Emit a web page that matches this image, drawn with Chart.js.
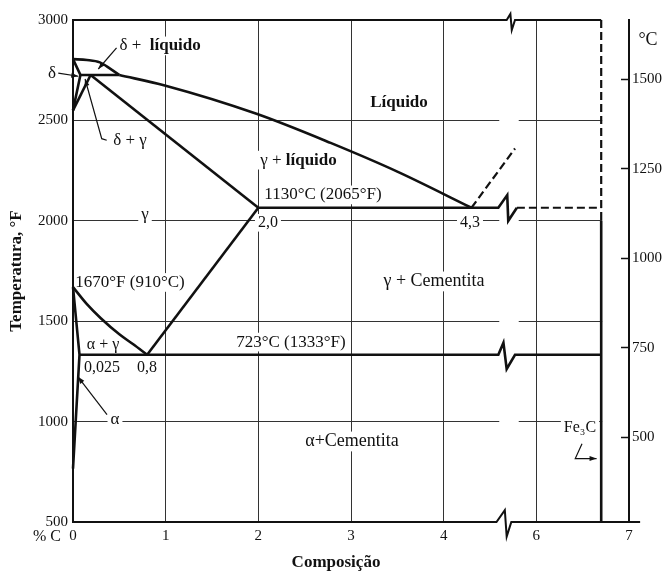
<!DOCTYPE html>
<html>
<head>
<meta charset="utf-8">
<title>Diagrama Fe-C</title>
<script src="https://cdn.jsdelivr.net/npm/chart.js@4.4.1/dist/chart.umd.min.js"></script>
<style>
  html, body { margin: 0; padding: 0; background: #fff; }
  #wrap { width: 667px; height: 571px; position: relative; }
</style>
</head>
<body>
<div id="wrap"><canvas id="diagram"></canvas></div>
<script>
"use strict";

// broken x axis: the 5 %C step is left out, 6 sits where 5 would be
var xTicks = [0, 1, 2, 3, 4, 6, 7];
var yTicksF = [500, 1000, 1500, 2000, 2500, 3000];
var yTicksC = [500, 750, 1000, 1250, 1500];
var cRange = [263, 1665]; // °C at bottom / top of the plot (right scale)

// phase boundaries as [%C, °F]
var liquidusDelta = [[0, 2805], [0.15, 2801], [0.29, 2789], [0.4, 2758], [0.5, 2726]];
var liquidusGamma = [[0.5, 2726], [0.99, 2674], [1.98, 2533], [2.78, 2388], [3.5, 2245], [4.3, 2065]];
var deltaSolidus = [[0, 2805], [0.08, 2726], [0, 2550]];
var gammaDelta = [[0.19, 2726], [0, 2550]];
var peritectic = [[0.08, 2726], [0.5, 2726]];
var gammaSolidus = [[0.19, 2726], [2.0, 2065]];
var eutectic = [[2.0, 2065], [4.59, 2065], [4.686, 2128], [4.697, 2000], [4.79, 2065]];
var eutecticDashed = [[4.79, 2065], [6.7, 2065]];
var liquidusFe3C = [[4.3, 2065], [4.77, 2360]];
var fe3cDashed = [[6.7, 3000], [6.7, 2000]];
var fe3cSolid = [[6.7, 2000], [6.7, 500]];
var a3 = [[0, 1670], [0.15, 1585], [0.3, 1515], [0.5, 1435], [0.65, 1385], [0.8, 1333]];
var acm = [[0.8, 1333], [2.0, 2065]];
var alphaLine = [[0, 1670], [0.07, 1333], [0, 766]];
var eutectoid = [[0.07, 1333], [4.59, 1333], [4.645, 1393], [4.68, 1262], [4.77, 1333], [6.7, 1333]];
var topEdge = [[0, 3000], [4.68, 3000], [4.72, 3030], [4.735, 2950], [4.77, 3000], [6.7, 3000]];
var bottomEdge = [[0, 500], [4.57, 500], [4.66, 559], [4.68, 427], [4.73, 500], [7.12, 500]];

// text in the diagram, [%C, °F]
var labels = [
    { t: 'δ +  líquido', x: 0.94, y: 2871 },
    { t: 'δ', x: -0.227, y: 2733 },
    { t: 'δ + γ', x: 0.615, y: 2401 },
    { t: 'Líquido', x: 3.518, y: 2589 },
    { t: 'γ + líquido', x: 2.433, y: 2302 },
    { t: '1130°C (2065°F)', x: 2.698, y: 2129 },
    { t: 'γ', x: 0.777, y: 2030 },
    { t: '2,0', x: 2.104, y: 1990, size: 16 },
    { t: '4,3', x: 4.284, y: 1990, size: 16 },
    { t: '1670°F (910°C)', x: 0.615, y: 1693 },
    { t: 'γ + Cementita', x: 3.896, y: 1698, size: 18 },
    { t: 'α + γ', x: 0.324, y: 1381, size: 16 },
    { t: '0,025', x: 0.313, y: 1267, size: 16 },
    { t: '0,8', x: 0.799, y: 1267, size: 16 },
    { t: '723°C (1333°F)', x: 2.352, y: 1396 },
    { t: 'α', x: 0.453, y: 1010 },
    { t: 'α+Cementita', x: 3.011, y: 901, size: 18 },
    { t: 'Fe₃C', x: 6.471, y: 970, size: 16 },
    { t: '°C', x: 7.205, y: 2901, size: 18 },
    { t: '% C', x: -0.281, y: 426, size: 16 },
    { t: 'Composição', x: 2.838, y: 297, bold: true }
];

// pointer lines, last point gets an arrow head
var leaders = [
    [[0.47, 2861], [0.273, 2756]],
    [[-0.159, 2735], [0.057, 2720]],
    [[0.364, 2401], [0.31, 2409], [0.13, 2706]],
    [[0.367, 1035], [0.054, 1223]],
    [[6.493, 890], [6.42, 816], [6.65, 816]]
];

var INK = '#111';
var SERIF = '"Liberation Serif", "DejaVu Serif", serif';

// everything past the break moves one unit left
function axisX(c) {
    return c >= 5 ? c - 1 : c;
}

function fontStr(size, bold) {
    return (bold ? 'bold ' : '') + size + 'px ' + SERIF;
}

function line(pts, extra) {
    var ds = {
        data: pts.map(function (p) { return { x: axisX(p[0]), y: p[1] }; }),
        showLine: true,
        borderColor: INK,
        borderWidth: 2.6,
        pointRadius: 0,
        fill: false,
        clip: false,
        borderCapStyle: 'butt',
        borderJoinStyle: 'miter'
    };
    for (var k in extra) ds[k] = extra[k];
    return ds;
}

var curved = { cubicInterpolationMode: 'monotone' };
var dashed = { borderDash: [8, 4], borderWidth: 2.2 };
var edge = { borderWidth: 2 };

var datasets = [
    line(liquidusDelta, curved),
    line(liquidusGamma, curved),
    line(deltaSolidus),
    line(gammaDelta),
    line(peritectic),
    line(gammaSolidus),
    line(eutectic),
    line(eutecticDashed, dashed),
    line(liquidusFe3C, dashed),
    line(fe3cDashed, dashed),
    line(fe3cSolid),
    line(a3, curved),
    line(acm),
    line(alphaLine),
    line(eutectoid),
    line(topEdge, edge),
    line(bottomEdge, edge)
];

function labelBox(ctx, chart, lb) {
    var size = lb.size || 17;
    var parts = lb.t.split(/(líquido|Líquido)/).filter(Boolean);
    var widths = parts.map(function (p) {
        ctx.font = fontStr(size, lb.bold || /íquido/.test(p));
        return ctx.measureText(p).width;
    });
    var total = widths.reduce(function (a, b) { return a + b; }, 0);
    var px = chart.scales.x.getPixelForValue(axisX(lb.x));
    var py = chart.scales.y.getPixelForValue(lb.y);
    return { parts: parts, widths: widths, size: size, x0: px - total / 2, w: total, y: py };
}

var annotations = {
    id: 'annotations',
    beforeDatasetsDraw: function (chart) {
        var ctx = chart.ctx, area = chart.chartArea, xs = chart.scales.x;
        ctx.save();
        ctx.beginPath();
        ctx.rect(area.left + 1.5, area.top, area.right - area.left - 1.5, area.bottom - area.top);
        ctx.clip();
        ctx.fillStyle = '#fff';
        // gap in the grid at the axis break
        var b0 = xs.getPixelForValue(4.6), b1 = xs.getPixelForValue(4.81);
        ctx.fillRect(b0, area.top, b1 - b0, area.bottom - area.top);
        // nothing right of the Fe3C line
        var f = xs.getPixelForValue(axisX(6.7)) + 1;
        ctx.fillRect(f, area.top, area.right - f, area.bottom - area.top);
        // grid is cut where the text sits
        labels.forEach(function (lb) {
            var b = labelBox(ctx, chart, lb);
            ctx.fillRect(b.x0 - 3, b.y - b.size * 0.55, b.w + 6, b.size * 1.1);
        });
        ctx.restore();
    },
    afterDatasetsDraw: function (chart) {
        var ctx = chart.ctx, xs = chart.scales.x, ys = chart.scales.y;
        ctx.save();
        ctx.strokeStyle = INK;
        ctx.fillStyle = INK;
        ctx.lineWidth = 1.2;
        leaders.forEach(function (pts) {
            var p = pts.map(function (q) {
                return [xs.getPixelForValue(axisX(q[0])), ys.getPixelForValue(q[1])];
            });
            ctx.beginPath();
            ctx.moveTo(p[0][0], p[0][1]);
            for (var i = 1; i < p.length; i++) ctx.lineTo(p[i][0], p[i][1]);
            ctx.stroke();
            var a = p[p.length - 2], e = p[p.length - 1];
            var ang = Math.atan2(e[1] - a[1], e[0] - a[0]);
            ctx.beginPath();
            ctx.moveTo(e[0], e[1]);
            ctx.lineTo(e[0] - 7 * Math.cos(ang) + 2.5 * Math.sin(ang), e[1] - 7 * Math.sin(ang) - 2.5 * Math.cos(ang));
            ctx.lineTo(e[0] - 7 * Math.cos(ang) - 2.5 * Math.sin(ang), e[1] - 7 * Math.sin(ang) + 2.5 * Math.cos(ang));
            ctx.closePath();
            ctx.fill();
        });
        ctx.textBaseline = 'middle';
        ctx.textAlign = 'left';
        labels.forEach(function (lb) {
            var b = labelBox(ctx, chart, lb);
            var x = b.x0;
            b.parts.forEach(function (p, i) {
                ctx.font = fontStr(b.size, lb.bold || /íquido/.test(p));
                ctx.fillText(p, x, b.y);
                x += b.widths[i];
            });
        });
        ctx.restore();
    }
};

function hideEnds(values) {
    return function (c) {
        return (c.tick && values.indexOf(c.tick.value) >= 0) ? 'rgba(0,0,0,0)' : '#333';
    };
}

function plain(v) {
    return String(v);
}

new Chart(document.getElementById('diagram'), {
    type: 'scatter',
    data: { datasets: datasets },
    options: {
        responsive: true,
        maintainAspectRatio: false,
        animation: false,
        events: [],
        layout: { padding: { top: 17, left: 0, right: 0, bottom: 0 } },
        plugins: { legend: { display: false }, tooltip: { enabled: false } },
        scales: {
            x: {
                type: 'linear',
                min: 0,
                max: axisX(7),
                afterBuildTicks: function (s) {
                    s.ticks = xTicks.map(function (t) { return { value: axisX(t) }; });
                },
                afterFit: function (s) { s.height = 49; },
                ticks: {
                    autoSkip: false,
                    maxRotation: 0,
                    padding: 5,
                    color: INK,
                    font: { family: SERIF, size: 15 },
                    callback: function (v) {
                        for (var i = 0; i < xTicks.length; i++) {
                            if (axisX(xTicks[i]) === v) return String(xTicks[i]);
                        }
                        return '';
                    }
                },
                grid: { color: hideEnds([0, axisX(7)]), lineWidth: 1, drawTicks: false },
                border: { display: false }
            },
            y: {
                type: 'linear',
                position: 'left',
                min: yTicksF[0],
                max: yTicksF[yTicksF.length - 1],
                afterBuildTicks: function (s) {
                    s.ticks = yTicksF.map(function (t) { return { value: t }; });
                },
                afterFit: function (s) { s.width = 73; },
                ticks: { padding: 5, color: INK, font: { family: SERIF, size: 15 }, callback: plain },
                grid: { color: hideEnds([500, 3000]), lineWidth: 1, drawTicks: false },
                border: { display: true, color: INK, width: 2 },
                title: {
                    display: true,
                    text: 'Temperatura, °F',
                    color: INK,
                    font: { family: SERIF, size: 17, weight: 'bold', lineHeight: 1 },
                    padding: { top: 8, bottom: 0 }
                }
            },
            y2: {
                type: 'linear',
                position: 'right',
                min: cRange[0],
                max: cRange[1],
                afterBuildTicks: function (s) {
                    s.ticks = yTicksC.map(function (t) { return { value: t }; });
                },
                afterFit: function (s) { s.width = 38; },
                ticks: { padding: 11, color: INK, font: { family: SERIF, size: 15 }, callback: plain },
                grid: { drawOnChartArea: false, tickLength: -8, tickColor: INK, tickWidth: 1.5, z: 1 },
                border: { display: true, color: INK, width: 2, z: 1 }
            }
        }
    },
    plugins: [annotations]
});
</script>
</body>
</html>
